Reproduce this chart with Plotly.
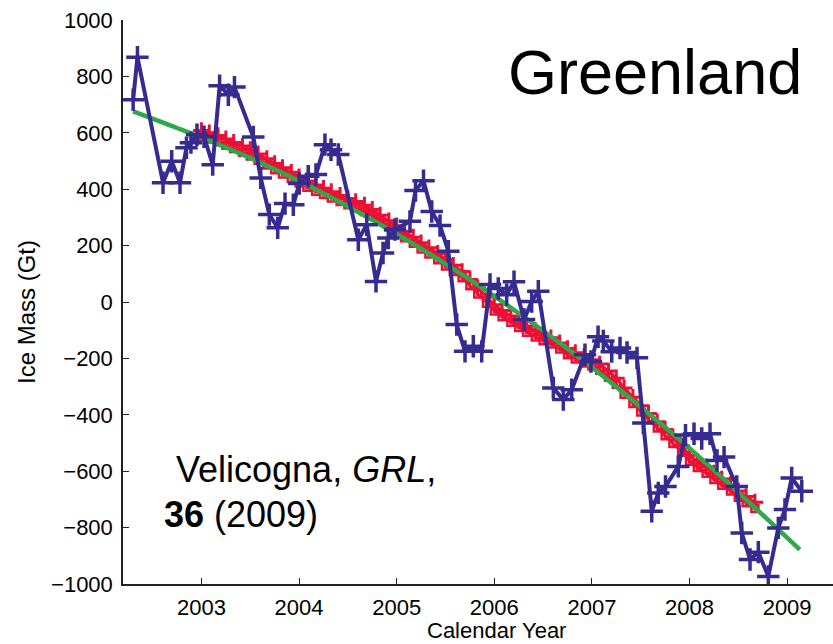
import plotly.graph_objects as go

# ---- GRACE monthly ice mass (blue) ----
blue_year = [2002.30, 2002.344, 2002.606, 2002.695, 2002.78, 2002.846, 2002.892, 2002.954, 2003.026,
             2003.115, 2003.186, 2003.275, 2003.338, 2003.531, 2003.607, 2003.695, 2003.781, 2003.856,
             2003.941, 2004.002, 2004.094, 2004.173, 2004.265, 2004.327, 2004.402, 2004.607, 2004.693,
             2004.788, 2004.86, 2004.914, 2004.983, 2005.136, 2005.193, 2005.275, 2005.359, 2005.444,
             2005.529, 2005.615, 2005.70, 2005.785, 2005.871, 2005.956, 2006.041, 2006.127, 2006.202,
             2006.305, 2006.383, 2006.451, 2006.605, 2006.707, 2006.793, 2006.929, 2006.99, 2007.063,
             2007.117, 2007.203, 2007.288, 2007.36, 2007.462, 2007.527, 2007.613, 2007.68, 2007.754,
             2007.885, 2007.959, 2008.046, 2008.125, 2008.21, 2008.282, 2008.354, 2008.484, 2008.535,
             2008.62, 2008.705, 2008.807, 2008.91, 2008.978, 2009.047, 2009.15]
blue_mass = [717, 868, 423, 499, 423, 547, 565, 593, 586,
             487, 767, 735, 762, 585, 440, 310, 263, 349,
             345, 420, 446, 452, 558, 540, 523, 221, 274,
             73, 174, 227, 257, 286, 395, 430, 321, 271,
             180, -80, -175, -157, -175, 62, 48, 26, 72,
             -62, 2, 38, -305, -346, -311, -187, -211, -123,
             -138, -176, -163, -179, -198, -429, -742, -677, -654,
             -583, -472, -467, -484, -467, -562, -550, -654, -819,
             -913, -887, -973, -801, -736, -624, -671]

# ---- mass-balance estimate (red) ----
red_year = [2003.00, 2003.08, 2003.17, 2003.25, 2003.33, 2003.42, 2003.50, 2003.58, 2003.67, 2003.75,
            2003.83, 2003.92, 2004.00, 2004.08, 2004.17, 2004.25, 2004.33, 2004.42, 2004.50, 2004.58,
            2004.67, 2004.75, 2004.83, 2004.92, 2005.00, 2005.08, 2005.17, 2005.25, 2005.33, 2005.42,
            2005.50, 2005.58, 2005.67, 2005.75, 2005.83, 2005.92, 2006.00, 2006.08, 2006.17, 2006.25,
            2006.33, 2006.42, 2006.50, 2006.58, 2006.67, 2006.75, 2006.83, 2006.92, 2007.00, 2007.08,
            2007.17, 2007.25, 2007.33, 2007.42, 2007.50, 2007.58, 2007.67, 2007.75, 2007.83, 2007.92,
            2008.00, 2008.08, 2008.17, 2008.25, 2008.33, 2008.42, 2008.50, 2008.58, 2008.67]
red_mass = [598, 590, 580, 568, 556, 543, 530, 515, 498, 481,
            466, 450, 434, 419, 405, 393, 381, 368, 357, 346,
            333, 318, 298, 278, 260, 240, 220, 200, 182, 162,
            140, 120, 98, 70, 40, 8, -20, -40, -60, -78,
            -95, -112, -125, -137, -155, -175, -190, -204, -215, -230,
            -255, -280, -315, -348, -378, -405, -435, -462, -490, -520,
            -553, -575, -595, -617, -638, -658, -680, -700, -720]

# ---- quadratic trend (green) ----
green_year = [2002.30, 2002.75, 2003.25, 2003.75, 2004.25, 2004.75, 2005.25, 2005.75,
              2006.25, 2006.75, 2007.25, 2007.75, 2008.25, 2008.75, 2009.13]
green_mass = [676, 617, 548, 471, 385, 291, 189, 79,
              -40, -166, -301, -444, -596, -755, -878]

y_ticks = [-1000, -800, -600, -400, -200, 0, 200, 400, 600, 800, 1000]
x_ticks = [2003, 2004, 2005, 2006, 2007, 2008, 2009]

BLUE = "#352b90"
RED = "#ec1034"
GREEN = "#2fa84a"

fig = go.Figure()

fig.add_trace(go.Scatter(
    x=red_year, y=[v - 12 for v in red_mass], mode="lines+markers",
    line=dict(color=RED, width=2.5),
    marker=dict(symbol="square-open", size=7, color=RED, line=dict(width=2.5, color=RED)),
    showlegend=False, hoverinfo="skip"))
fig.add_trace(go.Scatter(
    x=red_year, y=[v + 10 for v in red_mass], mode="lines+markers",
    line=dict(color=RED, width=3),
    marker=dict(symbol="cross-thin", size=12, color=RED, line=dict(width=3, color=RED)),
    showlegend=False))
fig.add_trace(go.Scatter(
    x=green_year, y=green_mass, mode="lines",
    line=dict(color=GREEN, width=4.5, shape="spline"),
    showlegend=False))
fig.add_trace(go.Scatter(
    x=blue_year, y=blue_mass, mode="lines+markers",
    line=dict(color=BLUE, width=4),
    marker=dict(symbol="cross-thin", size=16, color=BLUE, line=dict(width=3.5, color=BLUE)),
    showlegend=False))

fig.update_layout(
    width=833, height=644,
    margin=dict(l=123, r=0, t=20, b=60, autoexpand=False),
    paper_bgcolor="white", plot_bgcolor="white",
    font=dict(family="Liberation Sans, Arial, sans-serif", color="black", size=22),
    xaxis=dict(range=[2002.196, 2009.47], tickvals=x_ticks, ticktext=[str(t) for t in x_ticks],
               ticks="inside", ticklen=6, tickcolor="#222", showline=True, linecolor="#222",
               linewidth=1.5, showgrid=False, zeroline=False, automargin=False,
               tickfont=dict(size=22), ticklabelstandoff=3),
    yaxis=dict(range=[-1000, 1000], tickvals=y_ticks, automargin=False,
               ticks="inside", ticklen=6, tickcolor="#222", showline=True, linecolor="#222",
               linewidth=1.5, showgrid=False, zeroline=False,
               tickfont=dict(size=22), ticklabelstandoff=4),
    annotations=[
        dict(text="Greenland", x=804, y=72, xref="paper", yref="paper", showarrow=False,
             font=dict(size=63, color="black"), xanchor="right", yanchor="middle"),
        dict(text="Calendar Year", x=496, y=630, showarrow=False,
             font=dict(size=22, color="black"), xanchor="center", yanchor="middle"),
        dict(text="Ice Mass (Gt)", x=26, y=312, showarrow=False, textangle=-90,
             font=dict(size=24, color="black"), xanchor="center", yanchor="middle"),
        dict(text="Velicogna, <i>GRL</i>,", x=2002.72, y=-594, xref="x", yref="y",
             xanchor="left", yanchor="middle", showarrow=False, font=dict(size=36, color="black")),
        dict(text="<b>36</b> (2009)", x=2002.595, y=-754, xref="x", yref="y",
             xanchor="left", yanchor="middle", showarrow=False, font=dict(size=36, color="black")),
    ],
)

# convert pixel-placed annotations (Greenland, axis titles) to paper coordinates
W, H, L, R, T, B = 833, 644, 123, 0, 20, 60
pw, ph = W - L - R, H - T - B
for a in fig.layout.annotations[:3]:
    a.xref, a.yref = "paper", "paper"
    a.x = (a.x - L) / pw
    a.y = (H - B - a.y) / ph

fig.write_html("out.html", config={"displayModeBar": False},
               post_script="document.body.style.margin='0';document.body.style.overflow='hidden';")
